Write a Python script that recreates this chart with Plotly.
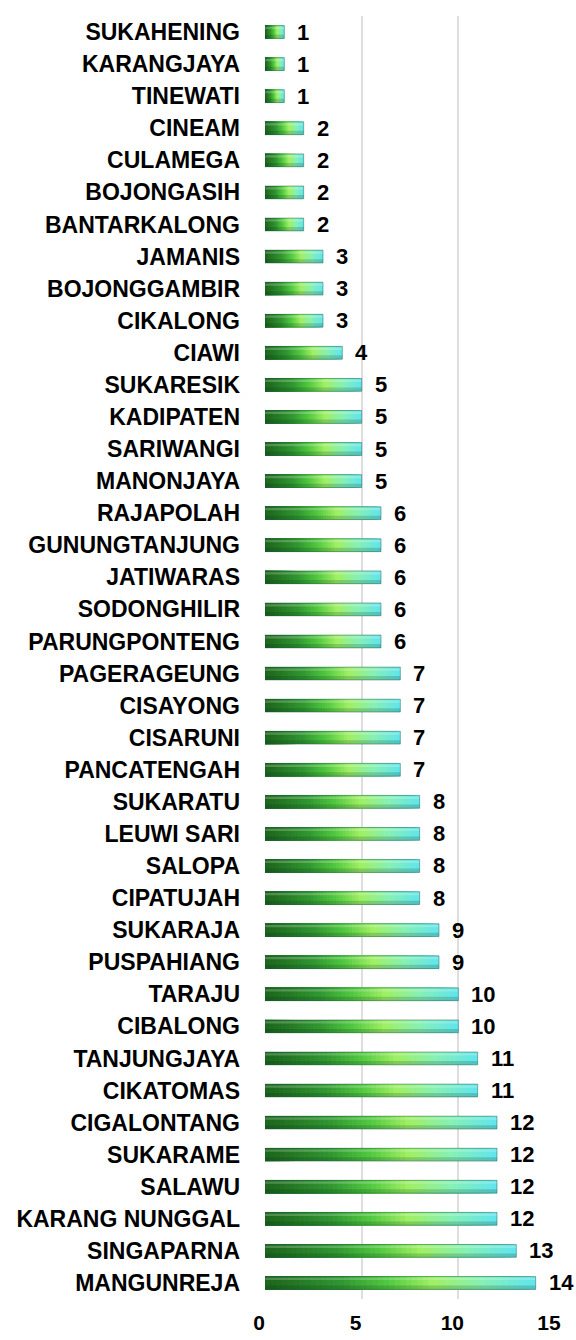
import plotly.graph_objects as go

# Districts (top to bottom) and their counts
districts = [
    "SUKAHENING", "KARANGJAYA", "TINEWATI", "CINEAM", "CULAMEGA", "BOJONGASIH",
    "BANTARKALONG", "JAMANIS", "BOJONGGAMBIR", "CIKALONG", "CIAWI", "SUKARESIK",
    "KADIPATEN", "SARIWANGI", "MANONJAYA", "RAJAPOLAH", "GUNUNGTANJUNG",
    "JATIWARAS", "SODONGHILIR", "PARUNGPONTENG", "PAGERAGEUNG", "CISAYONG",
    "CISARUNI", "PANCATENGAH", "SUKARATU", "LEUWI SARI", "SALOPA", "CIPATUJAH",
    "SUKARAJA", "PUSPAHIANG", "TARAJU", "CIBALONG", "TANJUNGJAYA", "CIKATOMAS",
    "CIGALONTANG", "SUKARAME", "SALAWU", "KARANG NUNGGAL", "SINGAPARNA",
    "MANGUNREJA",
]
counts = [1, 1, 1, 2, 2, 2, 2, 3, 3, 3, 4, 5, 5, 5, 5, 6, 6, 6, 6, 6, 7, 7, 7, 7,
          8, 8, 8, 8, 9, 9, 10, 10, 11, 11, 12, 12, 12, 12, 13, 14]
x_ticks = [0, 5, 10, 15]

# Gradient stops along each bar: dark green -> bright green -> cyan
grad_stops = [
    (0.00, (28, 100, 28)),
    (0.28, (48, 150, 48)),
    (0.45, (80, 200, 64)),
    (0.62, (160, 240, 100)),
    (0.80, (134, 240, 180)),
    (1.00, (96, 228, 238)),
]


def grad_color(t):
    for (t0, c0), (t1, c1) in zip(grad_stops[:-1], grad_stops[1:]):
        if t <= t1:
            f = (t - t0) / (t1 - t0) if t1 > t0 else 0
            r, g, b = (round(a + (b_ - a) * f) for a, b_ in zip(c0, c1))
            return f"rgb({r},{g},{b})"
    r, g, b = grad_stops[-1][1]
    return f"rgb({r},{g},{b})"


FONT = "Liberation Sans, Arial, sans-serif"
N = 48
BAR_W = 0.4

fig = go.Figure()
# Overlaid bars of decreasing length paint a left-to-right gradient on each bar
for k in range(N):
    frac = 1 - k / N
    fig.add_trace(go.Bar(
        y=districts,
        x=[v * frac for v in counts],
        orientation="h",
        width=BAR_W,
        marker=dict(color=grad_color(frac - 0.5 / N), line=dict(width=0)),
        hoverinfo="skip",
        showlegend=False,
    ))

# Cylinder shading: darker lower band and a soft highlight near the top
fig.add_trace(go.Bar(
    y=districts, x=counts, orientation="h",
    width=0.12, offset=0.08,
    marker=dict(color="rgba(0,40,20,0.18)", line=dict(width=0)),
    hoverinfo="skip", showlegend=False,
))
fig.add_trace(go.Bar(
    y=districts, x=counts, orientation="h",
    width=0.07, offset=-0.16,
    marker=dict(color="rgba(255,255,255,0.22)", line=dict(width=0)),
    hoverinfo="skip", showlegend=False,
))
# Thin outline around each bar
fig.add_trace(go.Bar(
    y=districts, x=counts, orientation="h",
    width=BAR_W,
    marker=dict(color="rgba(0,0,0,0)",
                line=dict(width=1, color="rgba(20,90,60,0.45)")),
    hoverinfo="skip", showlegend=False,
))

# Value labels to the right of each bar
for name, v in zip(districts, counts):
    fig.add_annotation(
        x=v, y=name, text=str(v), showarrow=False,
        xanchor="left", yanchor="middle", xshift=11, yshift=0,
        font=dict(family=FONT, size=22, color="black", weight="bold"),
    )

fig.update_layout(
    width=576, height=1340,
    margin=dict(l=265, r=21, t=16, b=41, autoexpand=False),
    barmode="overlay",
    plot_bgcolor="white",
    paper_bgcolor="white",
    xaxis=dict(
        range=[0, 15],
        tickvals=x_ticks,
        ticktext=[str(t) for t in x_ticks],
        showgrid=True, gridcolor="#dedede", gridwidth=2,
        zeroline=False, showline=False,
        tickfont=dict(family=FONT, size=21, color="black", weight="bold"),
        ticklabelstandoff=9,
        ticklabelshift=-6,
        automargin=False,
    ),
    yaxis=dict(
        autorange="reversed",
        showgrid=False, zeroline=False, showline=False,
        tickfont=dict(family=FONT, size=23, color="black", weight="bold"),
        ticklabelstandoff=24,
        automargin=False,
    ),
)

fig.write_html("out.html")
